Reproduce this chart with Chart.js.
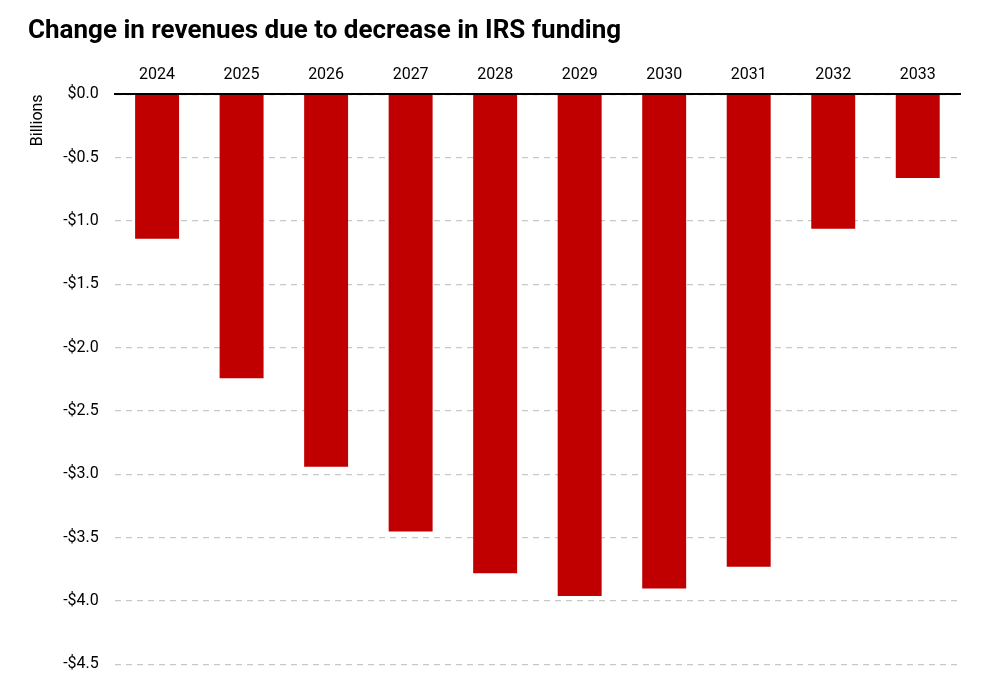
<!DOCTYPE html>
<html><head><meta charset="utf-8">
<script src="https://cdn.jsdelivr.net/npm/chart.js@4"></script>
<style>html,body{margin:0;padding:0;background:#fff}#w{width:982px;height:690px;position:relative}</style>
</head><body><div id="w"><canvas id="c"></canvas></div>
<script>
const title = "Change in revenues due to decrease in IRS funding";
const years = ["2024","2025","2026","2027","2028","2029","2030","2031","2032","2033"];
const revenueChange = [-1.14,-2.24,-2.94,-3.45,-3.78,-3.96,-3.90,-3.73,-1.06,-0.66];
const yAxisLabel = "Billions";
new Chart(document.getElementById('c'), {
  type: 'bar',
  data: { labels: years, datasets: [{ data: revenueChange, backgroundColor: '#c00000', barPercentage: 0.52, categoryPercentage: 1 }] },
  options: {
    responsive: true, maintainAspectRatio: false, animation: false,
    layout: { padding: { left: 28, right: 22, top: 8, bottom: 12 } },
    plugins: {
      legend: { display: false }, tooltip: { enabled: false },
      title: { display: true, text: title, align: 'start', color: '#000',
        font: { family: 'Roboto', size: 26, weight: 'bold' }, padding: { top: 8, bottom: 14 } }
    },
    scales: {
      x: { position: 'top',
        grid: { display: false, drawTicks: true, tickLength: 6, color: '#000' },
        border: { color: '#000', width: 2 },
        ticks: { color: '#000', font: { family: 'Roboto', size: 16 }, padding: 4 } },
      y: { min: -4.5, max: 0, reverse: false,
        ticks: { stepSize: 0.5, color: '#000', font: { family: 'Roboto', size: 16 }, padding: 16,
          callback: v => (v < 0 ? '-$' : '$') + Math.abs(v).toFixed(1) },
        grid: { color: '#c8c8c8', lineWidth: 1.3, drawTicks: false },
        border: { display: false, dash: [6, 5] },
        title: { display: true, text: yAxisLabel, color: '#000', font: { family: 'Roboto', size: 16 }, align: 'end', padding: 0 } }
    }
  }
});
</script></body></html>
